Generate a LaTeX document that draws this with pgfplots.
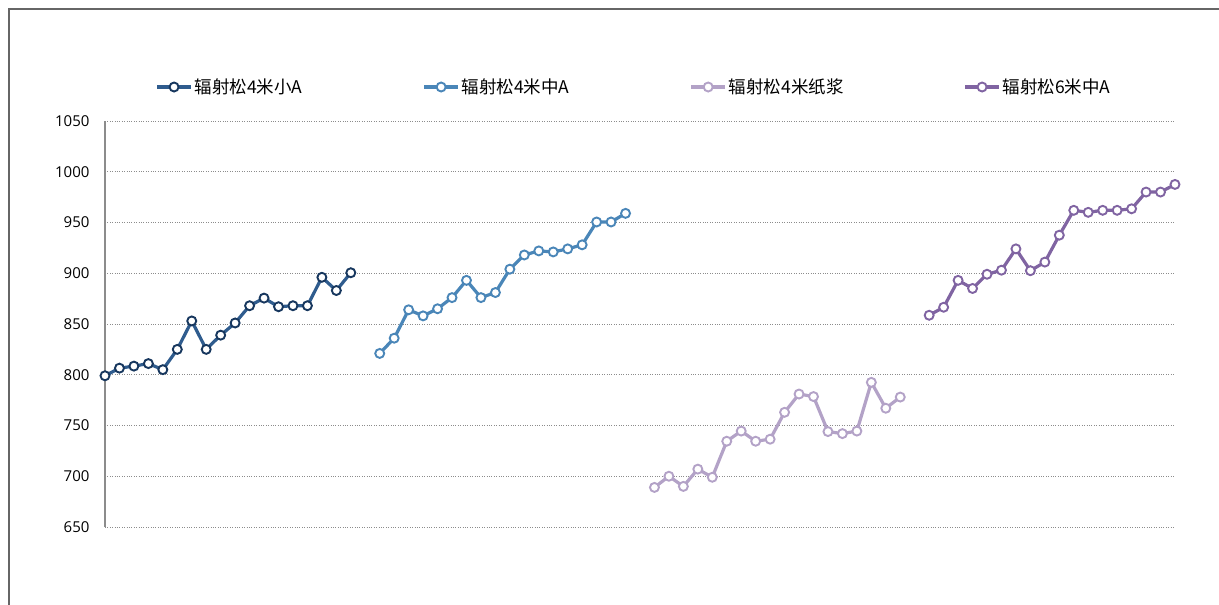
\documentclass[border=0pt]{standalone}
\usepackage{fontspec}
\setmainfont{Open Sans}
\newfontfamily\cjk{Noto Sans CJK SC}
\usepackage{pgfplots}
\pgfplotsset{compat=1.18}

\definecolor{sA}{HTML}{2F5C8E}
\definecolor{sAm}{HTML}{17375E}
\definecolor{sB}{HTML}{4A86B8}
\definecolor{sC}{HTML}{B3A2C7}
\definecolor{sD}{HTML}{8064A2}
\definecolor{gridc}{HTML}{8C8C8C}

\pgfplotsset{
    ser/.style 2 args={color=#1, line width=3.2pt, mark=*, mark size=4.5pt,
        mark options={solid, draw=#2, fill=white, line width=1.9pt}},
}

\begin{document}
\begin{tikzpicture}
\path[use as bounding box] (0pt,0pt) rectangle (1219pt,605pt);
% outer frame (left and top only, the rest is cut off)
\draw[gray!80!black, line width=1.6pt] (9pt,0pt) -- (9pt,596pt) -- (1219pt,596pt);

\begin{axis}[
    at={(105pt,78pt)}, anchor=south west,
    scale only axis,
    width=1070pt, height=406pt,
    xmin=0, xmax=74,
    ymin=650, ymax=1050,
    ytick={650,700,...,1050},
    xtick=\empty,
    axis x line=none,
    axis y line=left,
    axis line style={-, draw=gridc, line width=1.2pt},
    major tick length=0pt,
    ymajorgrids,
    major grid style={dotted, draw=gridc, line width=0.9pt},
    yticklabel style={font=\fontsize{15}{17}\selectfont, xshift=-12pt},
    /pgf/number format/1000 sep={},
    /pgf/number format/assume math mode=true,
    clip=false,
    legend columns=4,
    legend cell align=left,
    legend style={at={(0.047,1.0837)}, anchor=west, draw=none, fill=none,
        inner sep=0pt,
        font=\cjk\fontsize{17.5}{19}\selectfont,
        nodes={inner sep=2pt},
        /tikz/every even column/.append style={column sep=118pt}},
    legend image code/.code={
        \draw[mark repeat=2, mark phase=2, #1]
            plot coordinates {(0pt,0pt) (17pt,0pt) (34pt,0pt)};
    },
]
\addplot[ser={sA}{sAm}] coordinates {
    (0,799) (1,806.5) (2,808.5) (3,811) (4,805) (5,825) (6,853) (7,825)
    (8,839) (9,851) (10,868) (11,875.5) (12,867) (13,868) (14,868)
    (15,896) (16,883) (17,900.5)
};
\addlegendentry{辐射松4米小A}
\addplot[ser={sB}{sB}] coordinates {
    (19,821) (20,836) (21,864) (22,858) (23,865) (24,876) (25,893) (26,876)
    (27,881) (28,904) (29,918) (30,922) (31,921) (32,924) (33,928)
    (34,950.5) (35,950.5) (36,959)
};
\addlegendentry{辐射松4米中A}
\addplot[ser={sC}{sC}] coordinates {
    (38,689) (39,700) (40,690) (41,707) (42,699) (43,734.5) (44,744.5) (45,734.5)
    (46,736.5) (47,763) (48,781) (49,778.5) (50,744) (51,742) (52,744.5)
    (53,792.5) (54,767) (55,778)
};
\addlegendentry{辐射松4米纸浆}
\addplot[ser={sD}{sD}] coordinates {
    (57,858.6) (58,866.5) (59,893) (60,885) (61,899) (62,903) (63,924) (64,902.5)
    (65,911) (66,937.5) (67,962) (68,960) (69,962) (70,962) (71,963.5)
    (72,980) (73,980) (74,987.5)
};
\addlegendentry{辐射松6米中A}
\end{axis}
\end{tikzpicture}
\end{document}
